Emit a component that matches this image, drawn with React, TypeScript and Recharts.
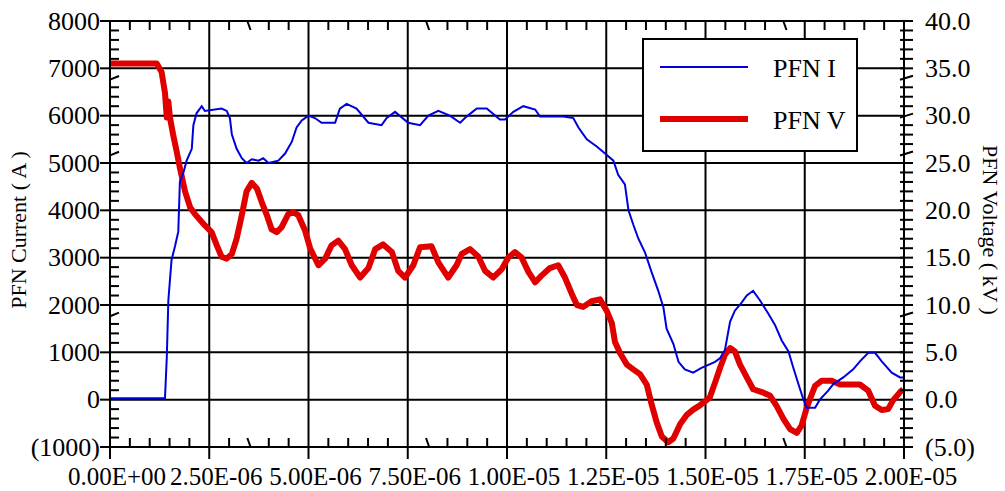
import React from 'react';
import { LineChart, Line, XAxis, YAxis, CartesianGrid, Legend } from 'recharts';

const FONT = '"Liberation Serif", "Times New Roman", serif';

// time in microseconds
const CURRENT_T = [
  0, 1.34, 1.385, 1.43, 1.47, 1.55, 1.64, 1.72, 1.76, 1.85, 1.93, 2.06, 2.1, 2.18, 2.31, 2.39, 2.81, 2.94,
  3.02, 3.07, 3.19, 3.32, 3.44, 3.57, 3.74, 3.86, 3.99, 4.24, 4.41, 4.58, 4.7, 4.83, 5.0, 5.16, 5.33, 5.67,
  5.79, 5.96, 6.21, 6.51, 6.84, 6.97, 7.18, 7.51, 7.81, 8.02, 8.27, 8.56, 8.82, 8.98, 9.24, 9.49, 9.82, 9.95,
  10.16, 10.41, 10.71, 10.83, 11.38, 11.67, 11.8, 12.01, 12.26, 12.47, 12.68, 12.8, 12.97, 13.06, 13.18,
  13.31, 13.48, 13.64, 13.81, 13.94, 14.02, 14.19, 14.32, 14.48, 14.69, 14.9, 15.24, 15.37, 15.49, 15.62,
  15.74, 15.91, 16.04, 16.2, 16.37, 16.58, 16.75, 16.92, 17.09, 17.21, 17.34, 17.46, 17.55, 17.76, 17.88,
  18.09, 18.22, 18.47, 18.72, 18.89, 19.1, 19.27, 19.44, 19.69, 19.9, 20.0,
];
const CURRENT_A = [
  30, 30, 30, 885, 2100, 2950, 3250, 3550, 4600, 4800, 5050, 5300, 5800, 6050, 6200, 6100, 6150, 6100,
  5950, 5600, 5300, 5100, 5000, 5080, 5050, 5100, 5000, 5050, 5200, 5450, 5750, 5900, 6000, 5950, 5850, 5850,
  6150, 6250, 6150, 5850, 5800, 5950, 6080, 5850, 5800, 6000, 6100, 6000, 5850, 5980, 6150, 6150, 5920, 5920,
  6080, 6200, 6130, 5980, 5990, 5950, 5750, 5500, 5350, 5200, 5050, 4750, 4550, 4000, 3700,
  3400, 3100, 2700, 2300, 1950, 1500, 1180, 800, 640, 570, 670, 800, 880, 1050, 1650,
  1880, 2050, 2200, 2300, 2100, 1820, 1580, 1250, 1020, 680, 330, 20, -170, -170, 0,
  190, 330, 470, 640, 810, 990, 990, 810, 570, 470, 470,
];

const VOLTAGE_T = [
  0, 1.18, 1.3, 1.385, 1.43, 1.47, 1.51, 1.59, 1.68, 1.76, 1.89, 2.02, 2.14, 2.39, 2.56, 2.69, 2.81, 2.94,
  3.07, 3.19, 3.32, 3.44, 3.57, 3.7, 3.82, 3.95, 4.07, 4.2, 4.32, 4.49, 4.62, 4.74, 4.91, 5.04, 5.25, 5.42,
  5.58, 5.75, 5.92, 6.09, 6.3, 6.51, 6.68, 6.88, 7.1, 7.26, 7.43, 7.64, 7.81, 8.1, 8.27, 8.52, 8.73, 8.86,
  9.07, 9.28, 9.45, 9.65, 9.87, 10.03, 10.2, 10.37, 10.54, 10.71, 10.87, 11.08, 11.29, 11.46, 11.63, 11.76,
  11.92, 12.13, 12.34, 12.51, 12.64, 12.72, 12.85, 13.02, 13.18, 13.35, 13.52, 13.64, 13.77, 13.9, 14.06,
  14.19, 14.36, 14.53, 14.69, 14.86, 15.11, 15.24, 15.37, 15.49, 15.62, 15.74, 15.87, 16.04, 16.2, 16.42,
  16.62, 16.79, 16.96, 17.13, 17.3, 17.42, 17.55, 17.68, 17.76, 17.93, 18.18, 18.39, 18.89, 19.1, 19.27,
  19.44, 19.6, 19.72, 19.9, 19.98,
];
const VOLTAGE_KV = [
  35.5, 35.5, 34.6, 32.4, 29.8, 31.5, 29.8, 28.0, 26.2, 24.5, 22.0, 20.3, 19.6, 18.4, 17.7, 16.3, 15.1, 14.9,
  15.4, 17.0, 19.5, 22.0, 22.9, 22.3, 20.9, 19.5, 18.0, 17.7, 18.2, 19.6, 19.8, 19.5, 17.9, 16.0, 14.2, 14.9,
  16.3, 16.8, 15.9, 14.2, 12.9, 13.9, 15.9, 16.4, 15.6, 13.6, 12.9, 14.2, 16.1, 16.2, 14.5, 12.9, 14.2, 15.4,
  15.9, 15.1, 13.6, 12.9, 13.8, 15.0, 15.6, 15.0, 13.5, 12.4, 13.1, 13.9, 14.2, 12.9, 11.2, 10.0,
  9.8, 10.4, 10.6, 9.4, 8.1, 6.1, 4.9, 3.7, 3.2, 2.7, 1.6, -0.45, -2.4, -3.9, -4.5,
  -4.1, -2.6, -1.6, -1.05, -0.6, 0.25, 1.8, 3.4, 4.75, 5.45, 5.1, 3.7, 2.35, 1.1, 0.8,
  0.45, -0.65, -2.0, -3.1, -3.5, -2.75, -0.85, 0.6, 1.45, 2.0, 2.0, 1.6, 1.6, 0.95, -0.65,
  -1.1, -1.0, -0.1, 0.8, 1.1,
];

const X_TICKS = [0, 2.5, 5, 7.5, 10, 12.5, 15, 17.5, 20];
const X_MINOR = Array.from({ length: 41 }, (_, i) => i * 0.5);
const LEFT_TICKS = [-1000, 0, 1000, 2000, 3000, 4000, 5000, 6000, 7000, 8000];
const LEFT_MINOR = Array.from({ length: 46 }, (_, i) => -1000 + i * 200);
const RIGHT_TICKS = Array.from({ length: 46 }, (_, i) => -5 + i);
// the original plot draws a few minor ticks skewed
const SLANT_X = [3.5, 8, 17];
const SLANT_LEFT = [6800, 5200, 1800];
const SLANT_RIGHT = [34, 30, 26, 9];

const SERIES = [
  { name: 'PFN I', color: '#0000dd', width: 2 },
  { name: 'PFN V', color: '#e00000', width: 6 },
];

const currentData = CURRENT_T.map((t, i) => ({ t, a: CURRENT_A[i] }));
const voltageData = VOLTAGE_T.map((t, i) => ({ t, v: VOLTAGE_KV[i] }));

const fmtTime = (v: number) => {
  const [m, e] = (v * 1e-6).toExponential(2).split('e');
  const n = Number(e);
  return `${m}E${n < 0 ? '-' : '+'}${String(Math.abs(n)).padStart(2, '0')}`;
};
const paren = (v: number, s: string) => (v < 0 ? `(${s.replace('-', '')})` : s);

const black = { stroke: '#000', strokeWidth: 2 };

const BottomTick = ({ x, y, payload }: any) => {
  const v = payload.value;
  if (X_TICKS.includes(v)) {
    return (
      <g>
        <line x1={x} x2={x} y1={y} y2={y + 12} {...black} />
        <text x={x + 7} y={y + 38} textAnchor="middle" fontFamily={FONT} fontSize={25} fill="#000">
          {fmtTime(v)}
        </text>
      </g>
    );
  }
  const s = SLANT_X.includes(v) ? 1.6 : 0;
  return <line x1={x - s} x2={x + s} y1={y - 9} y2={y} {...black} />;
};

const TopTick = ({ x, y, payload }: any) => {
  const v = payload.value;
  if (X_TICKS.includes(v)) return <g />;
  const s = SLANT_X.includes(v) ? 1.6 : 0;
  return <line x1={x - s} x2={x + s} y1={y} y2={y + 9} {...black} />;
};

const LeftTick = ({ x, y, payload }: any) => {
  const v = payload.value;
  if (LEFT_TICKS.includes(v)) {
    return (
      <g>
        <line x1={x - 10} x2={x} y1={y} y2={y} {...black} />
        <text x={x - 10} y={y + 8.5} textAnchor="end" fontFamily={FONT} fontSize={26} fill="#000">
          {paren(v, String(v))}
        </text>
      </g>
    );
  }
  const s = SLANT_LEFT.includes(v) ? 1.8 : 0;
  return <line x1={x} x2={x + 9} y1={y + s} y2={y - s} {...black} />;
};

const RightTick = ({ x, y, payload }: any) => {
  const v = payload.value;
  const s = SLANT_RIGHT.includes(v) ? 2 : 0;
  return (
    <g>
      <line x1={x - 4} x2={x + 9} y1={y + s} y2={y - s} {...black} />
      {v % 5 === 0 && (
        <text x={x + 21} y={y + 8.5} textAnchor="start" fontFamily={FONT} fontSize={26} fill="#000">
          {paren(v, v.toFixed(1))}
        </text>
      )}
    </g>
  );
};

const axisTitle = (text: string, dx: number, angle: number) => (props: any) => {
  const { x, y, height } = props.viewBox;
  const cx = x + dx;
  const cy = y + height / 2 - 4;
  return (
    <text
      x={cx}
      y={cy}
      transform={`rotate(${angle} ${cx} ${cy})`}
      textAnchor="middle"
      dominantBaseline="central"
      fontFamily={FONT}
      fontSize={22}
      fill="#000"
    >
      {text}
    </text>
  );
};

const LegendBox = () => (
  <div
    style={{
      width: 216,
      height: 114,
      border: '2px solid #000',
      background: '#fff',
      boxSizing: 'border-box',
    }}
  >
    <svg width={212} height={110} style={{ display: 'block' }}>
      {SERIES.map((s, i) => (
        <g key={s.name}>
          <line x1={16} x2={104} y1={27 + i * 52} y2={27 + i * 52} stroke={s.color} strokeWidth={s.width} />
          <text x={129} y={27 + i * 52} dy={9.5} fontFamily={FONT} fontSize={26} fill="#000">
            {s.name}
          </text>
        </g>
      ))}
    </svg>
  </div>
);

export default function App() {
  return (
    <div style={{ position: 'absolute', left: 0, top: 0, background: '#fff' }}>
      <LineChart width={1005} height={491} margin={{ top: 21, right: 0, bottom: 0, left: 0 }}>
        <CartesianGrid
          xAxisId="x"
          yAxisId="left"
          stroke="#000"
          strokeWidth={2}
          verticalValues={X_TICKS}
          horizontalValues={LEFT_TICKS}
        />
        <XAxis
          xAxisId="x"
          dataKey="t"
          type="number"
          domain={[0, 20]}
          ticks={X_MINOR}
          interval={0}
          height={44}
          tickSize={0}
          tickMargin={0}
          axisLine={black}
          tickLine={false}
          tick={<BottomTick />}
          allowDataOverflow
        />
        <XAxis
          xAxisId="xt"
          dataKey="t"
          type="number"
          orientation="top"
          mirror
          domain={[0, 20]}
          ticks={X_MINOR}
          interval={0}
          tickSize={0}
          tickMargin={0}
          axisLine={black}
          tickLine={false}
          tick={<TopTick />}
          allowDataOverflow
        />
        <YAxis
          yAxisId="left"
          type="number"
          domain={[-1000, 8000]}
          ticks={LEFT_MINOR}
          interval={0}
          width={110}
          tickSize={0}
          tickMargin={0}
          axisLine={black}
          tickLine={false}
          tick={<LeftTick />}
          allowDataOverflow
          label={{ content: axisTitle('PFN Current ( A )', 18, -90) }}
        />
        <YAxis
          yAxisId="right"
          orientation="right"
          type="number"
          domain={[-5, 40]}
          ticks={RIGHT_TICKS}
          interval={0}
          width={101}
          tickSize={0}
          tickMargin={0}
          axisLine={black}
          tickLine={false}
          tick={<RightTick />}
          allowDataOverflow
          label={{ content: axisTitle('PFN Voltage ( kV )', 86, 90) }}
        />
        <Line
          xAxisId="x"
          yAxisId="right"
          data={voltageData}
          dataKey="v"
          name={SERIES[1].name}
          stroke={SERIES[1].color}
          strokeWidth={SERIES[1].width}
          strokeLinejoin="round"
          dot={false}
          isAnimationActive={false}
        />
        <Line
          xAxisId="xt"
          yAxisId="left"
          data={currentData}
          dataKey="a"
          name={SERIES[0].name}
          stroke={SERIES[0].color}
          strokeWidth={SERIES[0].width}
          dot={false}
          isAnimationActive={false}
        />
        <Legend
          layout="vertical"
          align="center"
          verticalAlign="middle"
          content={<LegendBox />}
          wrapperStyle={{ left: 642, top: 38, width: 216, height: 114 }}
        />
      </LineChart>
    </div>
  );
}
